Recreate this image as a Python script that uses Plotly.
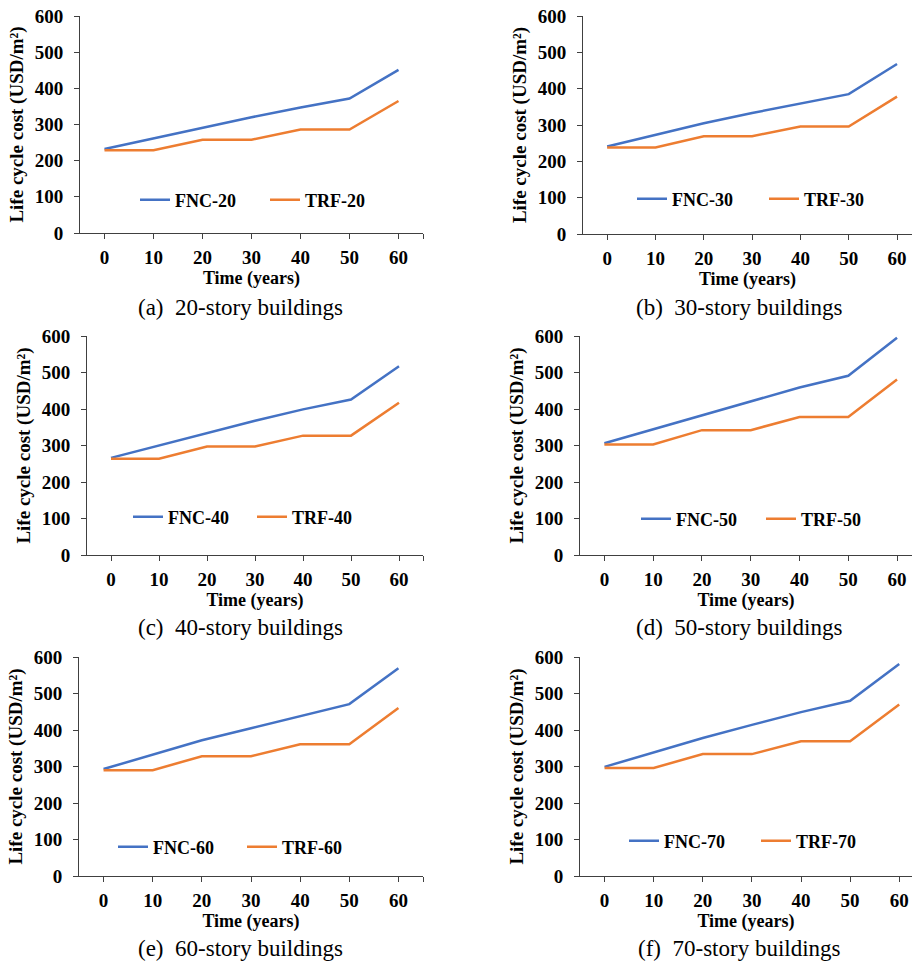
import plotly.graph_objects as go

years = [0, 10, 20, 30, 40, 50, 60]
stories = [20, 30, 40, 50, 60, 70]
panel_letters = ["a", "b", "c", "d", "e", "f"]

fnc_20 = [232, 262, 292, 320, 347, 372, 451]
trf_20 = [229, 229, 258, 258, 286, 286, 365]
fnc_30 = [241, 273, 305, 333, 360, 385, 468]
trf_30 = [238, 238, 269, 269, 296, 296, 378]
fnc_40 = [266, 300, 335, 368, 399, 426, 517]
trf_40 = [264, 264, 297, 297, 327, 327, 417]
fnc_50 = [306, 344, 382, 420, 459, 491, 595]
trf_50 = [303, 303, 342, 342, 378, 378, 481]
fnc_60 = [293, 332, 372, 405, 439, 471, 569]
trf_60 = [290, 290, 328, 328, 361, 361, 460]
fnc_70 = [299, 338, 378, 414, 449, 480, 581]
trf_70 = [296, 296, 334, 334, 369, 369, 470]

fnc_all = [fnc_20, fnc_30, fnc_40, fnc_50, fnc_60, fnc_70]
trf_all = [trf_20, trf_30, trf_40, trf_50, trf_60, trf_70]

y_ticks = [0, 100, 200, 300, 400, 500, 600]
x_tick_vals = [0, 10, 20, 30, 40, 50, 60, 65]
x_tick_text = ["0", "10", "20", "30", "40", "50", "60", ""]

W, H = 912, 964
BLUE = "#4472C4"
ORANGE = "#ED7D31"
AXIS = "#404040"
SERIF = "Liberation Serif, Times New Roman, serif"

# layout geometry in pixels: (left, right, top, bottom, x_max)
geom = [
    (80, 423, 16, 233, 65),
    (583, 912, 16, 234, 63.1),
    (87, 423, 336, 555, 65),
    (580, 912, 336, 555, 63.07),
    (79, 423, 657, 876, 65),
    (580, 912, 657, 876, 62.6),
]
# legend first-text position (x), vertical center (y), entry width, px
legend_pos = [(175, 200, 85), (672, 199, 87), (168, 517, 79),
              (676, 519, 80), (153, 847, 84), (664, 841, 87)]
# caption centers, px
caption_pos = [(240, 307), (739, 307), (240, 627), (739, 627), (240, 948), (739, 948)]


def px(v):
    return v / W


def py(v):
    return 1 - v / H


fig = go.Figure()

for i in range(6):
    left, right, top, bottom, xmax = geom[i]
    ax = "" if i == 0 else str(i + 1)
    leg = "legend" if i == 0 else "legend" + str(i + 1)
    s = stories[i]
    fig.add_trace(go.Scatter(
        x=years, y=fnc_all[i], mode="lines", name="FNC-%d" % s,
        line=dict(color=BLUE, width=2.5), xaxis="x" + ax, yaxis="y" + ax,
        legend=leg))
    fig.add_trace(go.Scatter(
        x=years, y=trf_all[i], mode="lines", name="TRF-%d" % s,
        line=dict(color=ORANGE, width=2.5), xaxis="x" + ax, yaxis="y" + ax,
        legend=leg))

    xdom = [px(left), min(px(right), 1.0)]
    ydom = [py(bottom), py(top)]
    fig.layout["xaxis" + ax] = dict(
        domain=xdom, range=[-5, xmax], anchor="y" + ax, automargin=False,
        tickvals=x_tick_vals, ticktext=x_tick_text, ticklabeloverflow="allow",
        showgrid=False, zeroline=False, showline=True, linecolor=AXIS, linewidth=1,
        ticks="outside", ticklen=5, tickcolor=AXIS, tickwidth=1,
        tickfont=dict(family=SERIF, size=19, color="black", weight="bold"),
        ticklabelstandoff=2,
        title=dict(text="Time (years)", standoff=2,
                   font=dict(family=SERIF, size=18, color="black", weight="bold")),
    )
    fig.layout["yaxis" + ax] = dict(
        domain=ydom, range=[0, 600], anchor="x" + ax, automargin=False,
        tickvals=y_ticks, ticklabeloverflow="allow",
        showgrid=False, zeroline=False, showline=True, linecolor=AXIS, linewidth=1,
        ticks="outside", ticklen=5, tickcolor=AXIS, tickwidth=1,
        tickfont=dict(family=SERIF, size=19, color="black", weight="bold"),
        ticklabelstandoff=7,
        title=dict(text="Life cycle cost (USD/m²)", standoff=6,
                   font=dict(family=SERIF, size=19, color="black", weight="bold")),
    )
    lx, ly, ew = legend_pos[i]
    fig.layout[leg] = dict(
        x=px(lx - 40), y=py(ly), xanchor="left", yanchor="middle",
        orientation="h", bgcolor="rgba(0,0,0,0)", borderwidth=0,
        entrywidth=ew, entrywidthmode="pixels", itemwidth=30,
        font=dict(family=SERIF, size=18, color="black", weight="bold"),
        tracegroupgap=0,
    )
    cx, cy = caption_pos[i]
    fig.add_annotation(
        x=px(cx), y=py(cy), xref="paper", yref="paper",
        text="(%s)  %d-story buildings" % (panel_letters[i], s),
        showarrow=False, xanchor="center", yanchor="middle",
        font=dict(family=SERIF, size=23, color="black"),
    )

fig.update_layout(
    width=W, height=H, margin=dict(l=0, r=0, t=0, b=0, autoexpand=False),
    paper_bgcolor="white", plot_bgcolor="white", showlegend=True,
)

# remove the browser's default 8px body margin so the figure fills the window
fig.write_html(
    "out.html",
    config={"displayModeBar": False},
    post_script="document.body.style.margin='0';document.body.style.overflow='hidden';",
)
